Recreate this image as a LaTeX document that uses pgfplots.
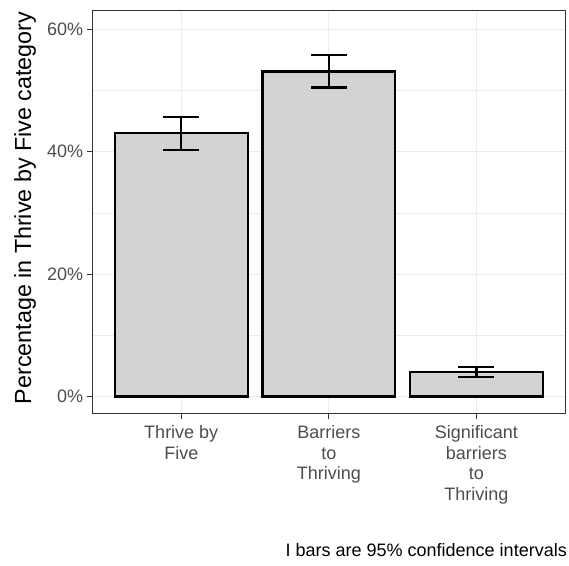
\documentclass[border=0pt]{standalone}
\usepackage{fontspec}
\setmainfont{Liberation Sans}
\usepackage{pgfplots}
\usepackage{pgfplotstable}
\pgfplotsset{compat=1.18}
\definecolor{tickgray}{HTML}{4D4D4D}
\definecolor{bordergray}{HTML}{333333}
\definecolor{gridgray}{HTML}{EBEBEB}
\definecolor{barfill}{HTML}{D3D3D3}
\pgfplotstableread{
x y ep em
1 43.1 2.6 2.8
2 53.1 2.7 2.6
3 4.0 0.8 0.8
}\datatable
\begin{document}
\begin{tikzpicture}[x=1pt,y=1pt]
\useasboundingbox (0,0) rectangle (569,565);
\begin{axis}[
  at={(92.7pt,152pt)}, anchor=south west,
  scale only axis, width=472.3pt, height=402pt,
  xmin=0.4, xmax=3.6, ymin=-2.7, ymax=63,
  xtick={1,2,3},
  xticklabels={Thrive by\\Five, Barriers\\to\\Thriving, Significant\\barriers\\to\\Thriving},
  ytick={0,20,40,60},
  yticklabels={0\%,20\%,40\%,60\%},
  minor ytick={10,30,50},
  xtick pos=lower, ytick pos=left,
  tick align=outside,
  major tick length=6pt, minor tick length=0pt,
  every tick/.style={bordergray, line width=1pt},
  xmajorgrids, ymajorgrids, yminorgrids,
  major grid style={gridgray, line width=1.2pt},
  minor grid style={gridgray, line width=0.6pt},
  axis line style={bordergray, line width=1pt},
  /pgf/number format/assume math mode=true,
  yticklabel style={font=\fontsize{18}{20}\selectfont, text=tickgray},
  xticklabel style={font=\fontsize{18}{20.7}\selectfont, text=tickgray, align=center, yshift=-3pt},
  ylabel={Percentage in Thrive by Five category},
  ylabel style={font=\fontsize{23.3}{26}\selectfont, at={(axis description cs:-0.143,0.51)}, anchor=center, rotate=0},
  ybar, bar width=0.9,
]
\addplot[fill=barfill, draw=black, line width=2.3pt,
  error bars/.cd, y dir=both, y explicit,
  error bar style={line width=2.3pt, black},
  error mark options={rotate=90, mark size=18pt, line width=2.3pt, black}]
  table[x=x, y=y, y error plus=ep, y error minus=em] {\datatable};
\end{axis}
\node[anchor=east, font=\fontsize{18}{20}\selectfont, inner sep=0pt] at (567,15) {I bars are 95\% confidence intervals};
\end{tikzpicture}
\end{document}
